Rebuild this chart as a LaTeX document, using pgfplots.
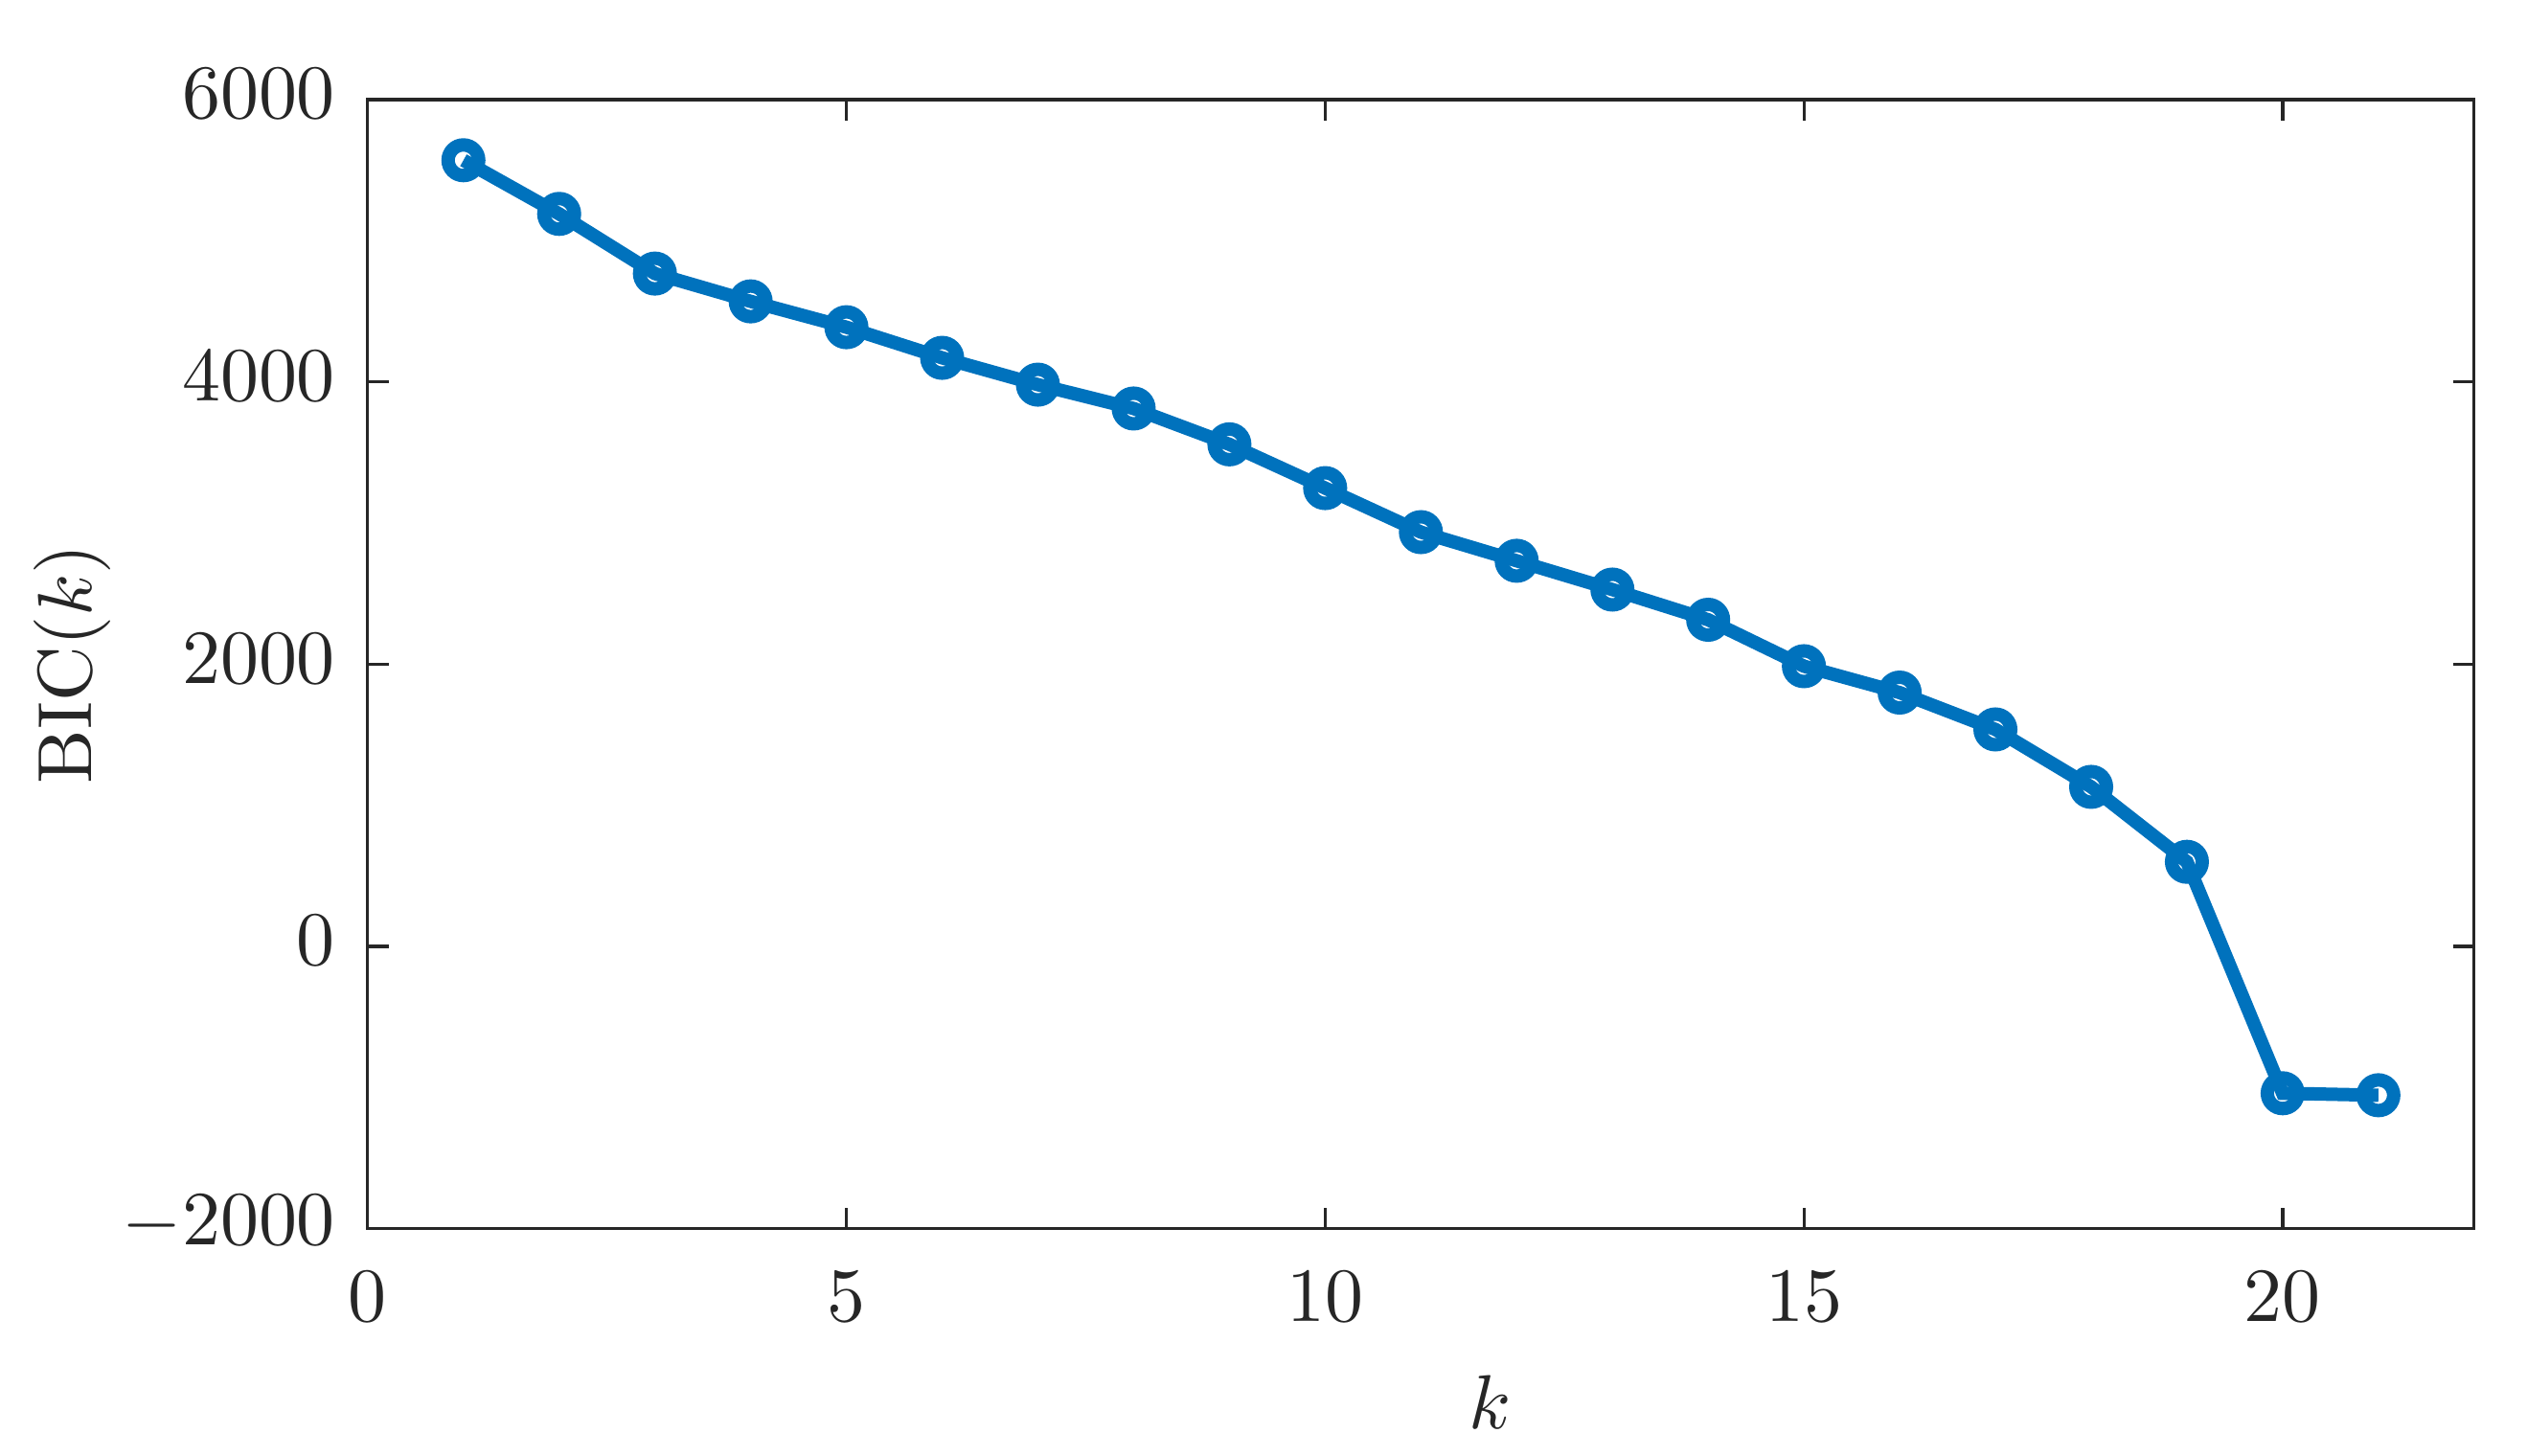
\documentclass[border=0pt]{standalone}
\usepackage{pgfplots}
\pgfplotsset{compat=1.18}
\definecolor{mblue}{rgb}{0,0.447,0.741}
\definecolor{axgray}{rgb}{0.15,0.15,0.15}
\begin{document}
\begin{tikzpicture}
\path[use as bounding box] (-48pt,-29.6pt) rectangle (281.9pt,160.4pt);
\begin{axis}[
  at={(0,0)}, anchor=south west,
  scale only axis,
  width=275pt, height=147.4pt,
  xmin=0, xmax=22, ymin=-2000, ymax=6000,
  xtick={0,5,10,15,20},
  ytick={-2000,0,2000,4000,6000},
  scaled y ticks=false,
  /pgf/number format/1000 sep={},
  tick align=inside,
  major tick length=2.75pt,
  axis line style={color=axgray, line width=0.4pt},
  every tick/.style={color=axgray, line width=0.4pt},
  tick label style={color=axgray},
  xticklabel style={yshift=-2.2pt},
  yticklabel style={yshift=0.75pt, xshift=-0.7pt},
  xlabel={$k$},
  ylabel={BIC($k$)},
  label style={color=axgray},
  xlabel style={at={(axis description cs:0.533,-0.1771)}, anchor=base},
  ylabel style={at={(axis description cs:-0.1313,0.5)}, anchor=base},
]
\addplot[color=mblue, line width=1.75pt, mark=o, mark size=2pt, mark options={solid, line width=1.75pt}] coordinates {
(1,5570) (2,5190) (3,4767) (4,4570) (5,4387) (6,4170) (7,3980)
(8,3811) (9,3557) (10,3247) (11,2935) (12,2732) (13,2528) (14,2314)
(15,1985) (16,1798) (17,1537) (18,1130) (19,599) (20,-1041) (21,-1055)
};
\end{axis}
\end{tikzpicture}
\end{document}
